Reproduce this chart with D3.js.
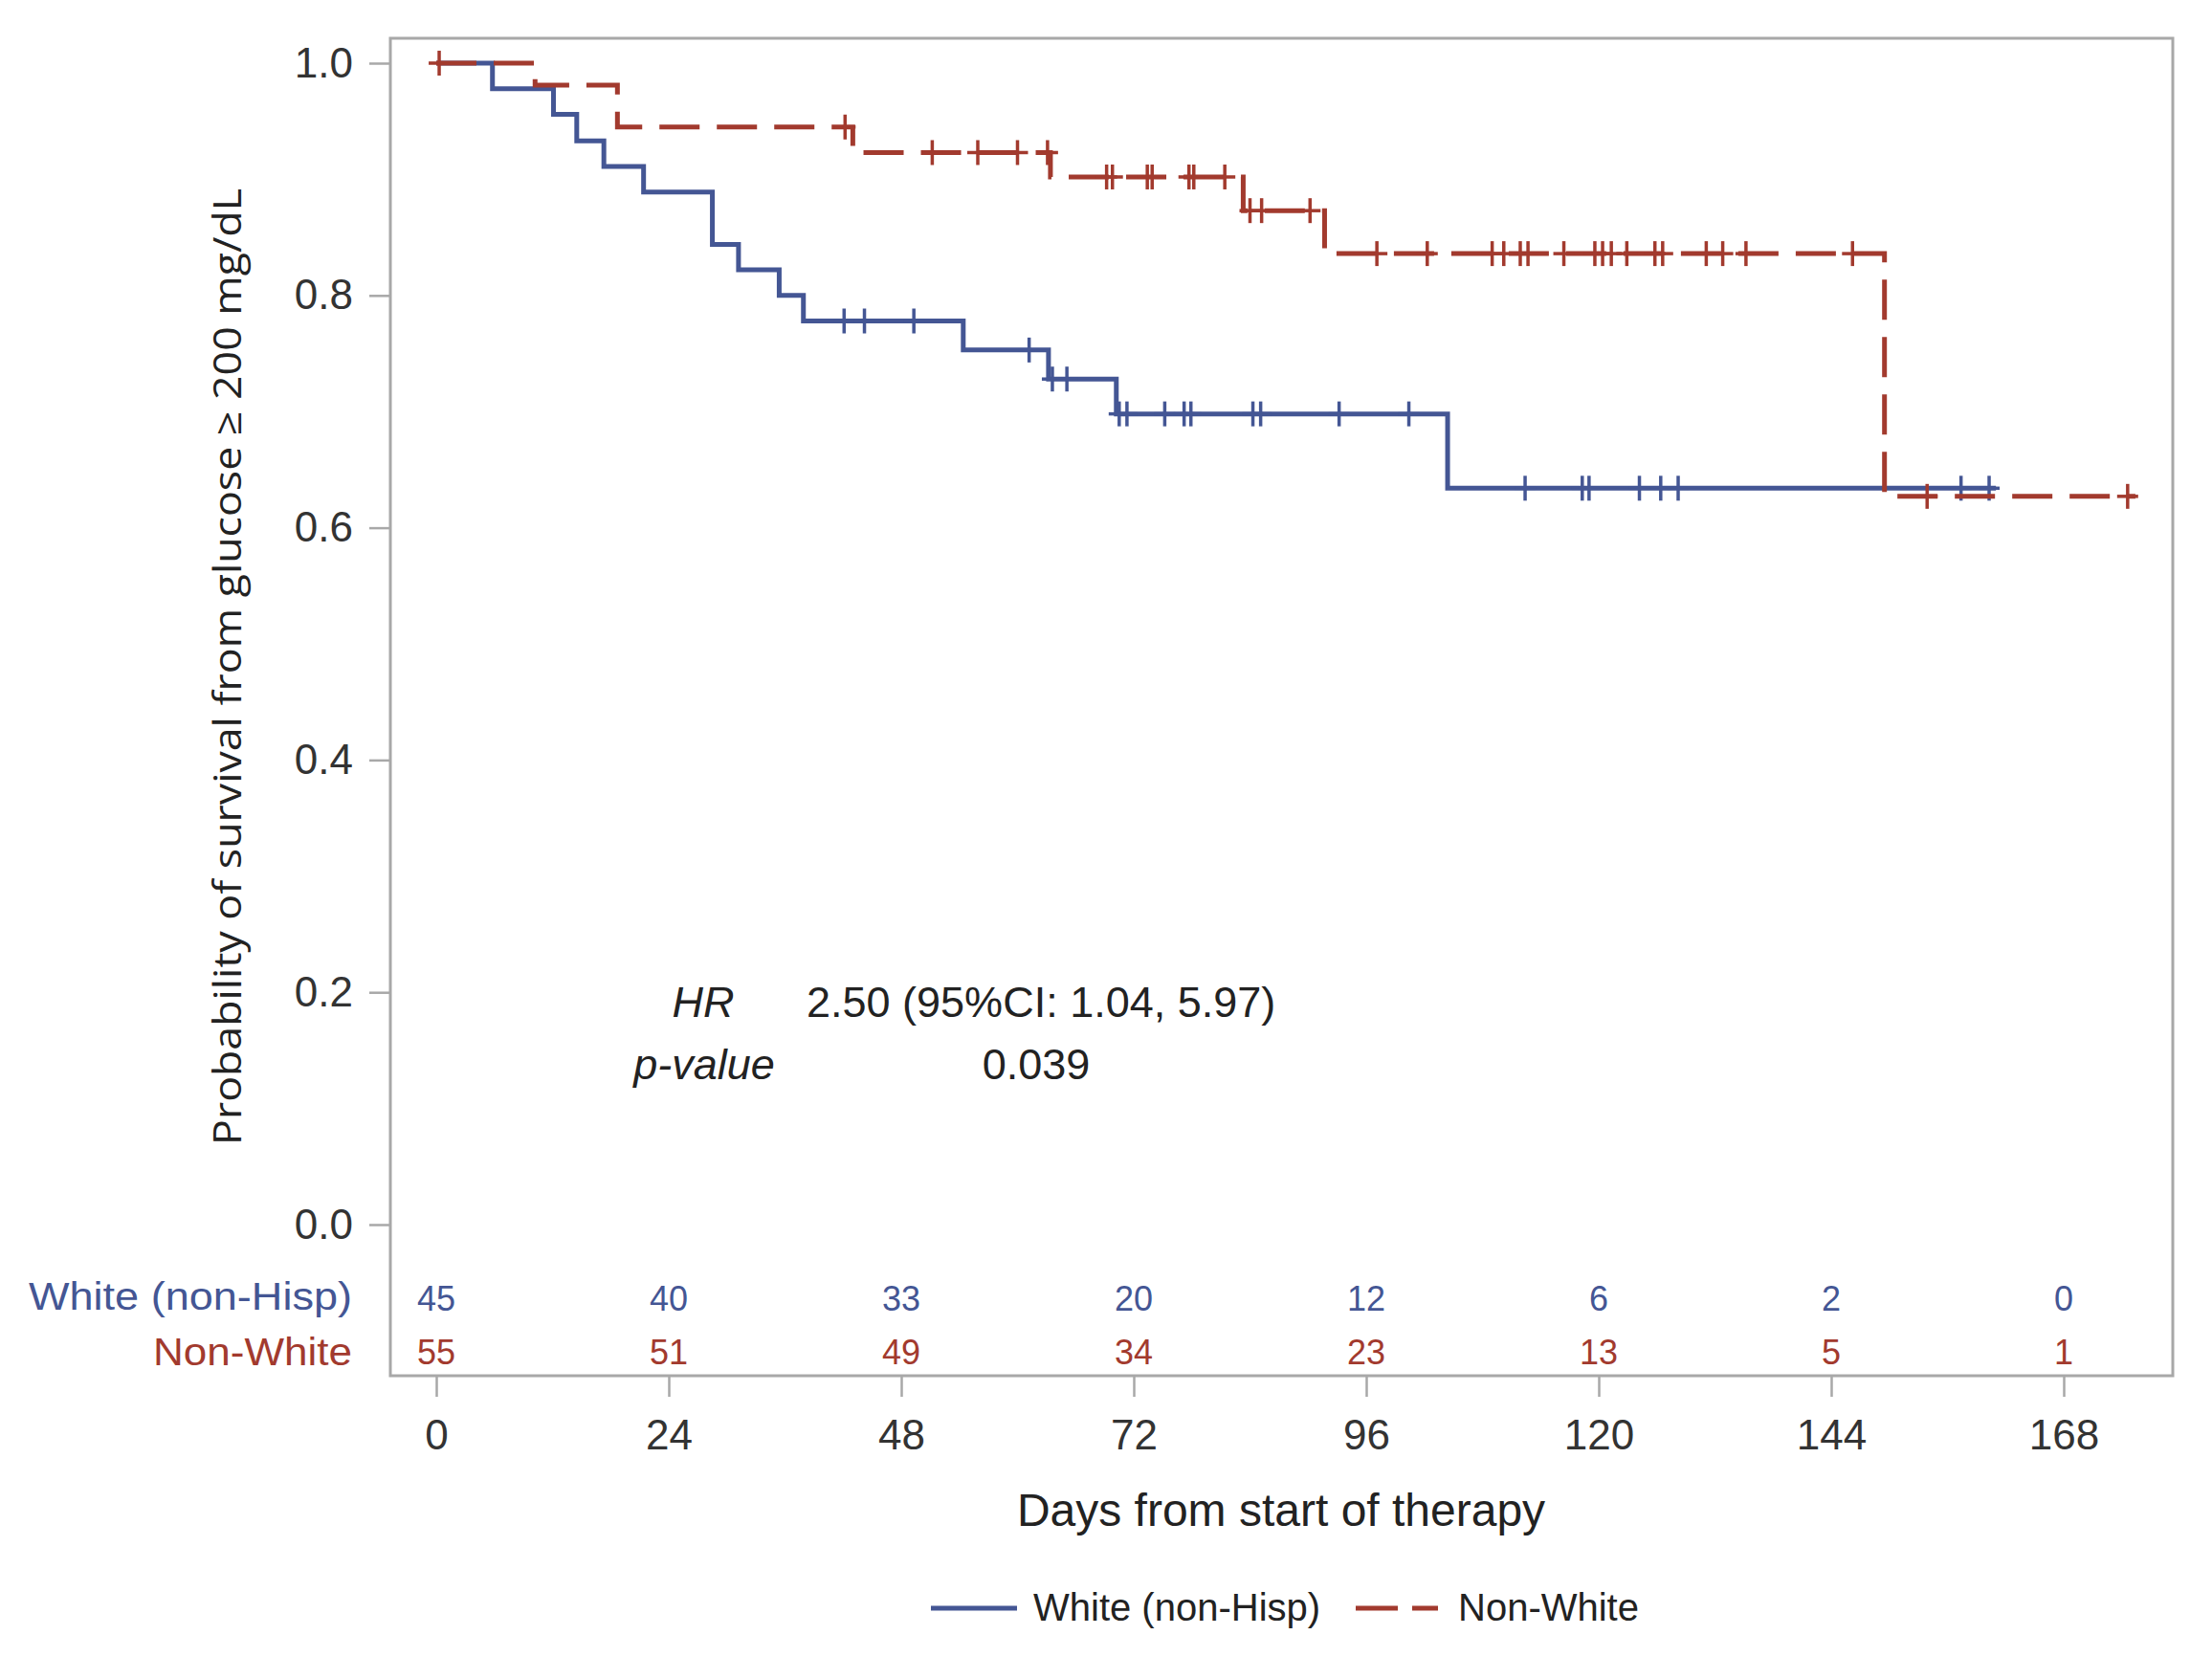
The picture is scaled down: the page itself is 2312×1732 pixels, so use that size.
<!DOCTYPE html>
<html>
<head>
<meta charset="utf-8">
<script src="https://cdn.jsdelivr.net/npm/d3@7"></script>
<style>
  body { margin: 0; background: #fff; }
  text { font-family: "Liberation Sans", Arial, sans-serif; }
</style>
</head>
<body>
<div id="chart-area"></div>
<script>

// SVG Size
var width = 2312,
    height = 1732;

// Kaplan-Meier steps (days, survival)
var whiteTimes = [0, 5.8, 12.1, 14.5, 17.3, 21.4, 28.5, 31.2, 35.4, 37.9, 54.4, 63.2, 70.2, 104.4];
var whiteSurv  = [1, 0.978, 0.956, 0.933, 0.911, 0.889, 0.844, 0.822, 0.800, 0.778, 0.753, 0.728, 0.698, 0.634];
var whiteEnd = 161;
var whiteCensor = [42.1, 44.2, 49.3, 61.2, 63.6, 65.1, 70.5, 71.3, 75.2, 77.2, 77.9, 84.3, 85.1, 93.2, 100.4,
    112.4, 118.3, 119.0, 124.2, 126.4, 128.2, 157.4, 160.3];

var nonWhiteTimes = [0, 10.2, 18.7, 43.0, 63.4, 83.3, 91.7, 149.5];
var nonWhiteSurv  = [1, 0.981, 0.945, 0.923, 0.902, 0.873, 0.836, 0.627];
var nonWhiteEnd = 175.4;
var nonWhiteCensor = [0.3, 42.2, 51.2, 55.9, 60.0, 63.1, 69.2, 69.8, 73.4, 73.9, 77.7, 78.2, 81.4, 84.0, 85.2, 90.2,
    97.1, 102.3, 109.0, 110.2, 111.9, 112.7, 116.4, 119.6, 120.4, 121.3, 122.9, 125.8, 126.6, 131.1, 132.8,
    135.2, 146.2, 153.9, 174.6];

// numbers at risk
var riskTimes = [0, 24, 48, 72, 96, 120, 144, 168];
var whiteRisk = [45, 40, 33, 20, 12, 6, 2, 0];
var nonWhiteRisk = [55, 51, 49, 34, 23, 13, 5, 1];

var yTicks = [0, 0.2, 0.4, 0.6, 0.8, 1.0];
var groupNames = ["White (non-Hisp)", "Non-White"];

var blue = "#445694",
    red = "#A23A2E";

var frame = {left: 408, top: 40, right: 2271, bottom: 1438};

var svg = d3.select("#chart-area")
    .append("svg")
    .attr("width", width)
    .attr("height", height);

var x = d3.scaleLinear()
    .domain([0, 168])
    .range([456, 2157]);

var y = d3.scaleLinear()
    .domain([0, 1])
    .range([1280, 66]);

// plot frame
svg.append("rect")
    .attr("x", frame.left)
    .attr("y", frame.top)
    .attr("width", frame.right - frame.left)
    .attr("height", frame.bottom - frame.top)
    .attr("fill", "none")
    .attr("stroke", "#a8a8a8")
    .attr("stroke-width", 3);

// axes
var yAxis = d3.axisLeft(y)
    .tickValues(yTicks)
    .tickFormat(d3.format(".1f"))
    .tickSize(22)
    .tickPadding(17);

var xAxis = d3.axisBottom(x)
    .tickValues(riskTimes)
    .tickSize(22)
    .tickPadding(24);

var gy = svg.append("g")
    .attr("transform", "translate(" + frame.left + ",0)")
    .call(yAxis);

var gx = svg.append("g")
    .attr("transform", "translate(0," + frame.bottom + ")")
    .call(xAxis);

[gx, gy].forEach(function (g) {
    g.select(".domain").remove();
    g.selectAll(".tick line").attr("stroke", "#a8a8a8").attr("stroke-width", 2.5);
    g.selectAll(".tick text")
        .attr("fill", "#333")
        .style("font-size", "44px")
        .style("font-family", "'Liberation Sans', Arial, sans-serif");
});

// survival curves
function stepPoints(times, surv, end) {
    var pts = times.map(function (t, i) { return [t, surv[i]]; });
    pts.push([end, surv[surv.length - 1]]);
    return pts;
}

function levelAt(times, surv, t) {
    var s = surv[0];
    for (var i = 0; i < times.length; i++) {
        if (times[i] <= t) s = surv[i];
    }
    return s;
}

var line = d3.line()
    .x(function (d) { return x(d[0]); })
    .y(function (d) { return y(d[1]); })
    .curve(d3.curveStepAfter);

var groups = [
    {times: whiteTimes, surv: whiteSurv, end: whiteEnd, censor: whiteCensor, color: blue, dash: null},
    {times: nonWhiteTimes, surv: nonWhiteSurv, end: nonWhiteEnd, censor: nonWhiteCensor, color: red, dash: "42,18"}
];

groups.forEach(function (g) {
    svg.append("path")
        .datum(stepPoints(g.times, g.surv, g.end))
        .attr("d", line)
        .attr("fill", "none")
        .attr("stroke", g.color)
        .attr("stroke-width", 5)
        .attr("stroke-dasharray", g.dash);

    // censor marks (plus)
    var marks = svg.append("g").selectAll("g")
        .data(g.censor)
        .enter()
        .append("g")
        .attr("transform", function (d) {
            return "translate(" + x(d) + "," + y(levelAt(g.times, g.surv, d)) + ")";
        })
        .attr("stroke", g.color)
        .attr("stroke-width", 3.5);
    marks.append("line").attr("x1", 0).attr("x2", 0).attr("y1", -13).attr("y2", 13);
    marks.append("line").attr("x1", -11).attr("x2", 11).attr("y1", 0).attr("y2", 0);
});

// numbers at risk
svg.append("text")
    .attr("x", 368).attr("y", 1369)
    .attr("text-anchor", "end")
    .attr("fill", blue)
    .style("font-size", "40px")
    .attr("textLength", 338)
    .attr("lengthAdjust", "spacingAndGlyphs")
    .text(groupNames[0]);

svg.append("text")
    .attr("x", 368).attr("y", 1427)
    .attr("text-anchor", "end")
    .attr("fill", red)
    .style("font-size", "40px")
    .attr("textLength", 208)
    .attr("lengthAdjust", "spacingAndGlyphs")
    .text(groupNames[1]);

svg.append("g").selectAll("text")
    .data(whiteRisk)
    .enter()
    .append("text")
    .attr("x", function (d, i) { return x(riskTimes[i]); })
    .attr("y", 1370)
    .attr("text-anchor", "middle")
    .attr("fill", blue)
    .style("font-size", "36px")
    .text(function (d) { return d; });

svg.append("g").selectAll("text")
    .data(nonWhiteRisk)
    .enter()
    .append("text")
    .attr("x", function (d, i) { return x(riskTimes[i]); })
    .attr("y", 1426)
    .attr("text-anchor", "middle")
    .attr("fill", red)
    .style("font-size", "36px")
    .text(function (d) { return d; });

// hazard ratio annotation
var note = svg.append("g").attr("fill", "#222").style("font-size", "45px");
note.append("text").attr("x", 735).attr("y", 1063).attr("text-anchor", "middle")
    .style("font-style", "italic").text("HR");
note.append("text").attr("x", 843).attr("y", 1063).attr("text-anchor", "start")
    .text("2.50 (95%CI: 1.04, 5.97)");
note.append("text").attr("x", 736).attr("y", 1128).attr("text-anchor", "middle")
    .style("font-style", "italic").text("p-value");
note.append("text").attr("x", 1083).attr("y", 1128).attr("text-anchor", "middle")
    .text("0.039");

// axis titles
svg.append("text")
    .attr("text-anchor", "middle")
    .attr("transform", "translate(1339,1595)")
    .attr("fill", "#222")
    .style("font-size", "48px")
    .text("Days from start of therapy");

svg.append("text")
    .attr("text-anchor", "middle")
    .attr("transform", "translate(252,697)rotate(-90)")
    .attr("fill", "#222")
    .style("font-size", "40px")
    .style("font-family", "'Open Sans', 'Noto Sans', sans-serif")
    .attr("textLength", 1000)
    .attr("lengthAdjust", "spacingAndGlyphs")
    .text("Probability of survival from glucose \u2265 200 mg/dL");

// legend
var legend = svg.append("g");
legend.append("line")
    .attr("x1", 973).attr("x2", 1063).attr("y1", 1681).attr("y2", 1681)
    .attr("stroke", blue).attr("stroke-width", 5);
legend.append("text")
    .attr("x", 1080).attr("y", 1694)
    .attr("fill", "#222")
    .style("font-size", "40px")
    .text(groupNames[0]);
legend.append("line")
    .attr("x1", 1417).attr("x2", 1503).attr("y1", 1681).attr("y2", 1681)
    .attr("stroke", red).attr("stroke-width", 5)
    .attr("stroke-dasharray", "44,15");
legend.append("text")
    .attr("x", 1524).attr("y", 1694)
    .attr("fill", "#222")
    .style("font-size", "40px")
    .text(groupNames[1]);

</script>
</body>
</html>
